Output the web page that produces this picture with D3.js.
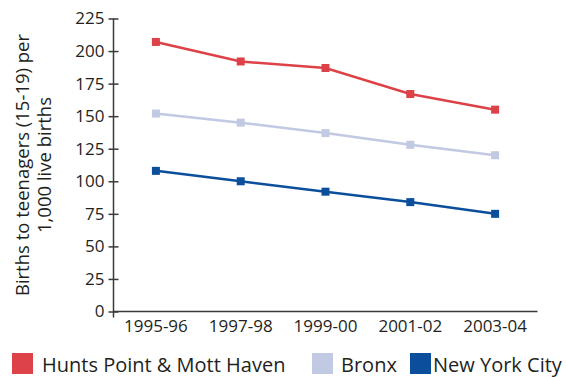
<!DOCTYPE html>
<html>
<head>
<meta charset="utf-8">
<script src="https://cdn.jsdelivr.net/npm/d3@7"></script>
<style>
  body { margin: 0; background: #fff; }
  text { font-family: "Open Sans", sans-serif; fill: #231f20; }
</style>
</head>
<body>
<div class="chart"></div>
<script>
// data
const periods = ['1995-96', '1997-98', '1999-00', '2001-02', '2003-04'];
const huntsPoint = [207, 192, 187, 167, 155];
const bronx = [152, 145, 137, 128, 120];
const nyc = [108, 100, 92, 84, 75];
const seriesNames = ['Hunts Point & Mott Haven', 'Bronx', 'New York City'];
const seriesColours = ['#dc4247', '#c2c9e2', '#0b4f9c'];
const yTicks = [0, 25, 50, 75, 100, 125, 150, 175, 200, 225];

const width = 566, height = 377;
const margin = {top: 18.5, right: 28.5, bottom: 65.5, left: 113.5};

const svg = d3.select('.chart').append('svg')
    .attr('width', width)
    .attr('height', height);

const x = d3.scaleBand()
    .domain(periods)
    .range([margin.left, width - margin.right]);

const y = d3.scaleLinear()
    .domain([0, 225])
    .range([height - margin.bottom, margin.top]);

// y axis (ticks cross the line)
const yAxis = svg.append('g')
    .attr('transform', `translate(${margin.left},0)`)
    .call(d3.axisLeft(y).tickValues(yTicks).tickSize(5).tickPadding(4));
yAxis.selectAll('.tick line').attr('x2', 5).attr('x1', -5);
yAxis.select('.domain').attr('d', `M0,${y(225)}V${y(0) + 6}`);

// x axis with tick marks on band edges
const xAxis = svg.append('g')
    .attr('transform', `translate(0,${y(0)})`)
    .call(d3.axisBottom(x).tickSize(0).tickPadding(8));
xAxis.select('.domain').attr('d', `M${margin.left},0H${width - margin.right}`);
xAxis.selectAll('.edge')
    .data(periods.map(p => x(p)).concat([x.range()[1]]))
    .enter().append('line')
    .attr('x1', d => d).attr('x2', d => d)
    .attr('y1', 0).attr('y2', 6.5);

svg.selectAll('.domain, .tick line, .edge')
    .attr('stroke', '#3a3a3a')
    .attr('stroke-width', 1.5);
svg.selectAll('.tick text')
    .attr('font-size', 17)
    .attr('fill', '#231f20');
yAxis.selectAll('.tick text').attr('x', -9);

// y axis title
svg.append('text')
    .attr('transform', 'translate(29,165) rotate(-90)')
    .attr('text-anchor', 'middle')
    .attr('font-size', 18.5)
    .selectAll('tspan')
    .data(['Births to teenagers (15-19) per', '1,000 live births'])
    .enter().append('tspan')
    .attr('x', 0)
    .attr('dy', (d, i) => i ? 22 : 0)
    .text(d => d);

// lines and markers
const allSeries = [huntsPoint, bronx, nyc];
const line = d3.line()
    .x((d, i) => x(periods[i]) + x.bandwidth() / 2)
    .y(d => y(d));

allSeries.forEach((values, s) => {
  svg.append('path')
      .datum(values)
      .attr('d', line)
      .attr('fill', 'none')
      .attr('stroke', seriesColours[s])
      .attr('stroke-width', 2.5);
  svg.selectAll(null)
      .data(values)
      .enter().append('rect')
      .attr('x', (d, i) => x(periods[i]) + x.bandwidth() / 2 - 4)
      .attr('y', d => y(d) - 4)
      .attr('width', 8)
      .attr('height', 8)
      .attr('fill', seriesColours[s]);
});

// legend
const legendX = [12, 312, 410];
const legendGap = [9, 8, 2];
const legend = svg.selectAll('.legend')
    .data(seriesNames)
    .enter().append('g')
    .attr('transform', (d, i) => `translate(${legendX[i]},353)`);
legend.append('rect')
    .attr('width', 21).attr('height', 21)
    .attr('fill', (d, i) => seriesColours[i]);
legend.append('text')
    .attr('x', (d, i) => 21 + legendGap[i])
    .attr('y', 19)
    .attr('font-size', 20)
    .text(d => d);
</script>
</body>
</html>
